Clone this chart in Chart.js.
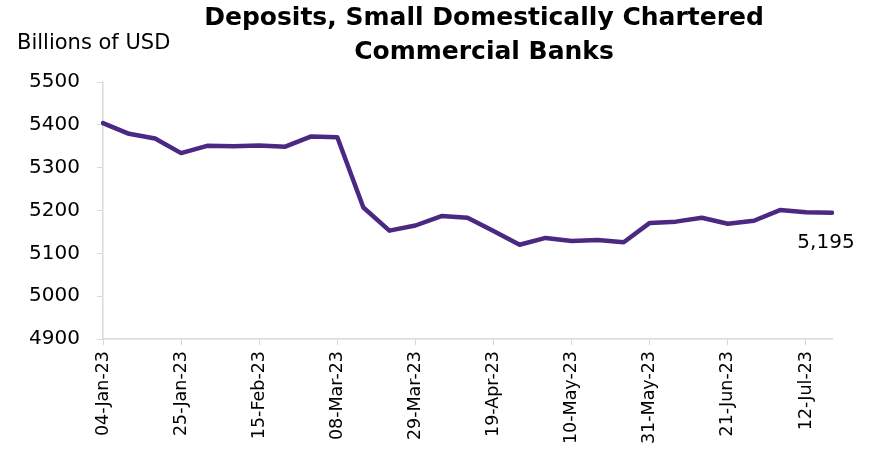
<!DOCTYPE html>
<html>
<head>
<meta charset="utf-8">
<script src="https://cdn.jsdelivr.net/npm/chart.js@4"></script>
<style>
  html, body { margin: 0; padding: 0; background: #fff; }
  #wrap { width: 871px; height: 466px; }
</style>
</head>
<body>
<div id="wrap"><canvas id="deposits-chart" width="871" height="466"></canvas></div>
<script>
// weekly dates (every week, every 3rd one gets a label)
const weeks = [
  "04-Jan-23", "11-Jan-23", "18-Jan-23", "25-Jan-23", "01-Feb-23", "08-Feb-23",
  "15-Feb-23", "22-Feb-23", "01-Mar-23", "08-Mar-23", "15-Mar-23", "22-Mar-23",
  "29-Mar-23", "05-Apr-23", "12-Apr-23", "19-Apr-23", "26-Apr-23", "03-May-23",
  "10-May-23", "17-May-23", "24-May-23", "31-May-23", "07-Jun-23", "14-Jun-23",
  "21-Jun-23", "28-Jun-23", "05-Jul-23", "12-Jul-23", "19-Jul-23"
]

// deposits, billions of USD
const deposits = [
  5404, 5379, 5368, 5334, 5351, 5350, 5352, 5349, 5373, 5371,
  5207, 5153, 5165, 5187, 5183, 5152, 5120, 5136, 5129, 5131,
  5126, 5171, 5174, 5183, 5169, 5176, 5201, 5196, 5195
]

const titleLines = ["Deposits, Small Domestically Chartered", "Commercial Banks"]
const unitLabel = "Billions of USD"
const yMin = 4900
const yMax = 5500
const yStep = 100

const axisGrey = "#d9d9d9"
const lineColor = "#4b2882"

// titulo, unidad y etiqueta del ultimo valor
const textPlugin = {
  id: "extraText",
  afterDraw(chart) {
    const ctx = chart.ctx
    ctx.save()
    ctx.fillStyle = "#000"
    ctx.textAlign = "center"
    ctx.textBaseline = "middle"
    ctx.font = "bold 25px 'DejaVu Sans'"
    ctx.fillText(titleLines[0], 484, 18)
    ctx.fillText(titleLines[1], 484, 52)

    ctx.textAlign = "left"
    ctx.font = "21px 'DejaVu Sans'"
    ctx.fillText(unitLabel, 17, 44)

    const meta = chart.getDatasetMeta(0)
    const last = meta.data[meta.data.length - 1]
    const lastVal = deposits[deposits.length - 1]
    ctx.textAlign = "center"
    ctx.font = "20px 'DejaVu Sans'"
    ctx.fillText(lastVal.toLocaleString("en-US"), last.x - 6, last.y + 30)
    ctx.restore()
  }
}

const contenedor = document.querySelector("#deposits-chart").getContext("2d")

const depositsChart = new Chart(contenedor, {
  type: "line",
  data: {
    labels: weeks,
    datasets: [{
      label: "Deposits",
      data: deposits,
      borderColor: lineColor,
      borderWidth: 4.5,
      pointRadius: 0,
      tension: 0,
      borderCapStyle: "round",
      borderJoinStyle: "round"
    }]
  },
  options: {
    responsive: false,
    animation: false,
    layout: {
      padding: { top: 82, right: 39, left: 0, bottom: 0 }
    },
    plugins: {
      legend: { display: false },
      tooltip: { enabled: false }
    },
    scales: {
      x: {
        offset: false,
        afterFit(scale) { scale.height = 127 },
        grid: {
          drawOnChartArea: false,
          drawTicks: true,
          tickLength: 6,
          tickColor: (c) => (c.index % 3 === 0 ? axisGrey : "rgba(0,0,0,0)")
        },
        border: { color: axisGrey, width: 1.5 },
        ticks: {
          autoSkip: false,
          maxRotation: 90,
          minRotation: 90,
          padding: 6,
          color: "#000",
          font: { family: "DejaVu Sans", size: 17.5 },
          callback: (val, i) => (i % 3 === 0 ? weeks[i] : "")
        }
      },
      y: {
        min: yMin,
        max: yMax,
        afterFit(scale) { scale.width = 103 },
        grid: {
          drawOnChartArea: false,
          drawTicks: true,
          tickLength: 6,
          tickColor: axisGrey
        },
        border: { color: axisGrey, width: 1.5 },
        ticks: {
          stepSize: yStep,
          padding: 17,
          color: "#000",
          font: { family: "DejaVu Sans", size: 20 },
          callback: (val) => String(val)
        }
      }
    }
  },
  plugins: [textPlugin]
})
</script>
</body>
</html>
